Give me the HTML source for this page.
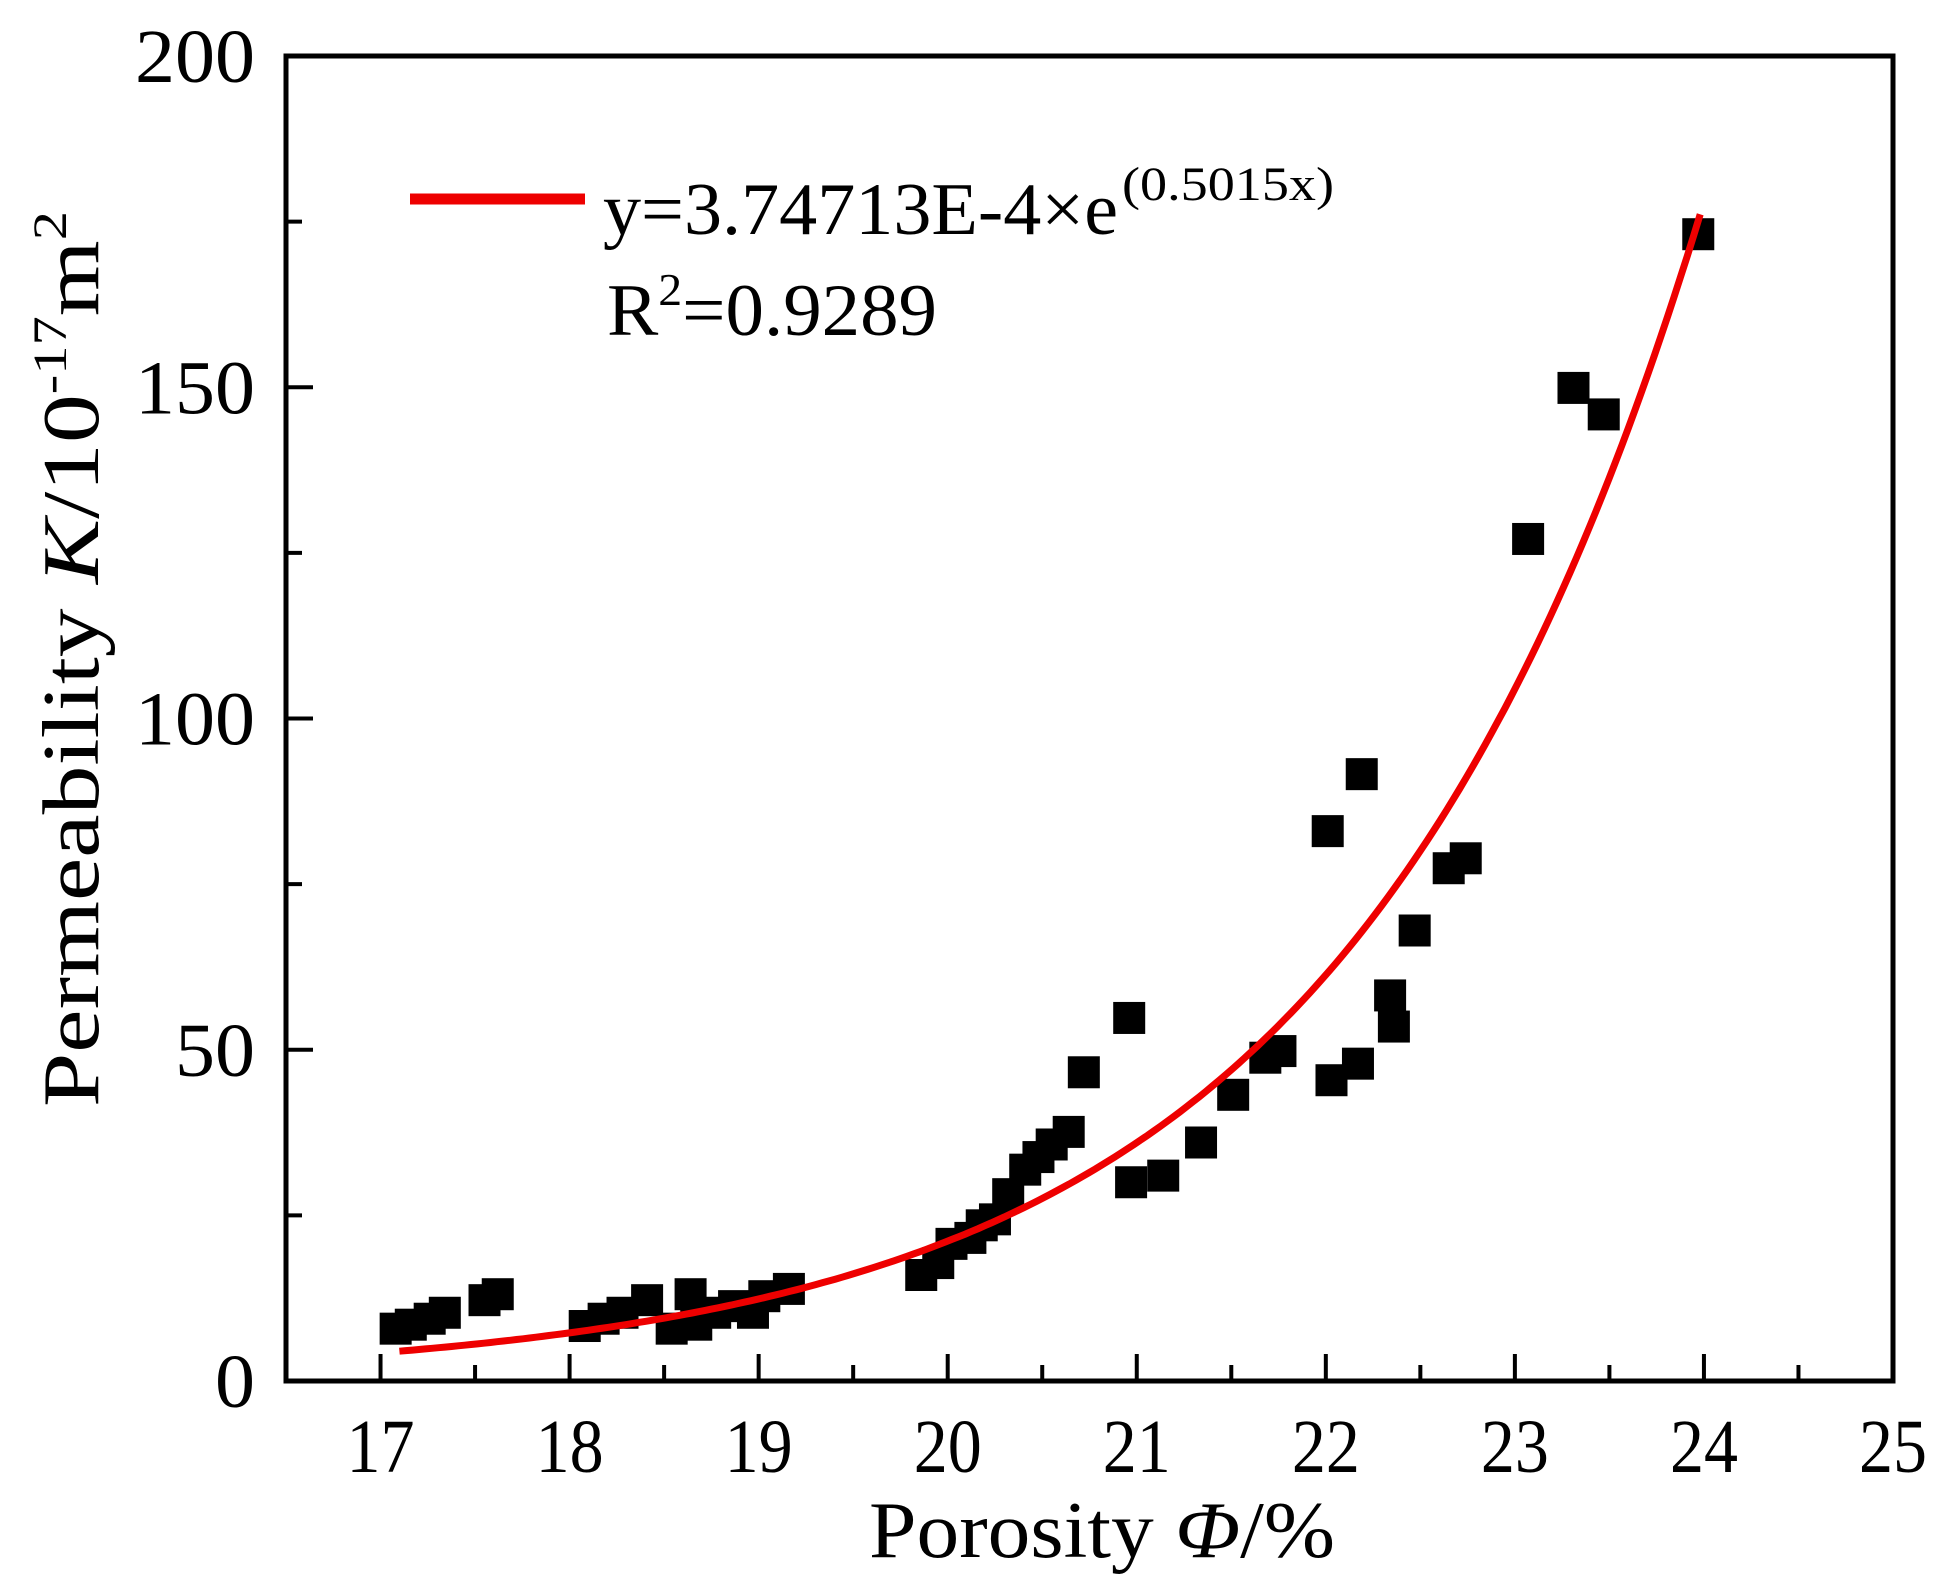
<!DOCTYPE html>
<html><head><meta charset="utf-8"><style>
html,body{margin:0;padding:0;background:#fff}
svg{display:block}
text{font-family:"Liberation Serif",serif;fill:#000}
</style></head><body>
<svg id="chart" width="1951" height="1589" viewBox="0 0 1951 1589" xmlns="http://www.w3.org/2000/svg">
<g id="marks"></g>
<g id="axes"></g>
<g>
<line x1="410" y1="199" x2="585" y2="199" stroke="#e00" stroke-width="11"/>
<text x="603" y="234" font-size="74" textLength="515" lengthAdjust="spacingAndGlyphs">y=3.74713E-4×e</text>
<text x="1122" y="200" font-size="48" textLength="212" lengthAdjust="spacingAndGlyphs">(0.5015x)</text>
<text x="607" y="335" font-size="74" textLength="330" lengthAdjust="spacingAndGlyphs">R<tspan font-size="46" dy="-30">2</tspan><tspan dy="30">=0.9289</tspan></text>
</g>
<text x="869" y="1557" font-size="80" textLength="466" lengthAdjust="spacingAndGlyphs">Porosity <tspan font-style="italic">Φ</tspan>/%</text>
<text transform="translate(98,1107) rotate(-90)" x="0" y="0" font-size="80" textLength="896" lengthAdjust="spacingAndGlyphs">Permeability <tspan font-style="italic">K</tspan>/10<tspan font-size="48" dy="-32">-17</tspan><tspan dy="32">m</tspan><tspan font-size="48" dy="-32">2</tspan></text>
</svg>
<script>
const xData=[17.08,17.16,17.26,17.34,17.55,17.62,18.08,18.18,18.28,18.41,18.54,18.64,18.67,18.77,18.87,18.97,19.03,19.16,19.86,19.95,20.02,20.12,20.18,20.25,20.32,20.41,20.48,20.55,20.64,20.72,20.96,20.97,21.14,21.34,21.51,21.68,21.76,22.01,22.03,22.17,22.19,22.34,22.36,22.47,22.65,22.74,23.07,23.31,23.47,23.97];
const yData=[7.9,8.5,9.4,10.3,12.2,13.1,8.3,9.4,10.3,12.2,7.9,13.1,8.5,10.3,11.3,10.3,12.8,13.9,16,17.8,20.7,21.6,23.5,24.4,28.2,31.9,33.8,35.7,37.6,46.6,54.8,30,31,36,43.2,48.8,49.8,83,45.4,47.9,91.6,58.2,53.5,68,77.4,78.9,127.1,149.9,145.9,173.1];
const xTicks=[17,18,19,20,21,22,23,24,25];
const yTicks=[0,50,100,150,200];
const fitParams=[4.5,0.533,17.1];
const fitRange=[17.1,23.98];

const L=286,R=1893,T=56,B=1381,XMIN=16.5,XMAX=25,YMIN=0,YMAX=200;
const sx=v=>L+(v-XMIN)/(XMAX-XMIN)*(R-L);
const sy=v=>B-(v-YMIN)/(YMAX-YMIN)*(B-T);
const NS='http://www.w3.org/2000/svg';
function mk(tag,attrs,parent){const e=document.createElementNS(NS,tag);for(const k in attrs)e.setAttribute(k,attrs[k]);parent.appendChild(e);return e;}
const marks=document.getElementById('marks'),axes=document.getElementById('axes');
for(let i=0;i<xData.length;i++){
  const r=mk('rect',{x:sx(xData[i])-16,y:sy(yData[i])-16,width:32,height:32,fill:'#000'},marks);
  
  
}
let d='';
for(let i=0;i<=200;i++){const x=fitRange[0]+(fitRange[1]-fitRange[0])*i/200;const y=fitParams[0]*Math.exp(fitParams[1]*(x-fitParams[2]));d+=(i?'L':'M')+sx(x).toFixed(1)+','+sy(y).toFixed(1);}
const fit=mk('path',{d:d,fill:'none',stroke:'#e00','stroke-width':7},marks);


const frame=mk('rect',{x:L,y:T,width:R-L,height:B-T,fill:'none',stroke:'#000','stroke-width':5},axes);


for(let v=16.5;v<=25.001;v+=0.5){
  const major=Math.abs(v-Math.round(v))<1e-6&&v>=17;
  const t=mk('line',{x1:sx(v),x2:sx(v),y1:B,y2:B-(major?27:16),stroke:'#000','stroke-width':4},axes);
  
  
}
xTicks.forEach(v=>{const t=mk('text',{x:sx(v),y:1472,'font-size':76,'text-anchor':'middle',textLength:68,lengthAdjust:'spacingAndGlyphs'},axes);t.textContent=v;
  
  });
for(let v=0;v<=200;v+=25){
  const major=v%50===0;
  const t=mk('line',{x1:L,x2:L+(major?27:16),y1:sy(v),y2:sy(v),stroke:'#000','stroke-width':4},axes);
  
  
}
yTicks.forEach(v=>{const s=String(v);const t=mk('text',{x:255,y:sy(v)+26,'font-size':76,'text-anchor':'end',textLength:s.length*40,lengthAdjust:'spacingAndGlyphs'},axes);t.textContent=s;
  
  });
</script>
</body></html>
